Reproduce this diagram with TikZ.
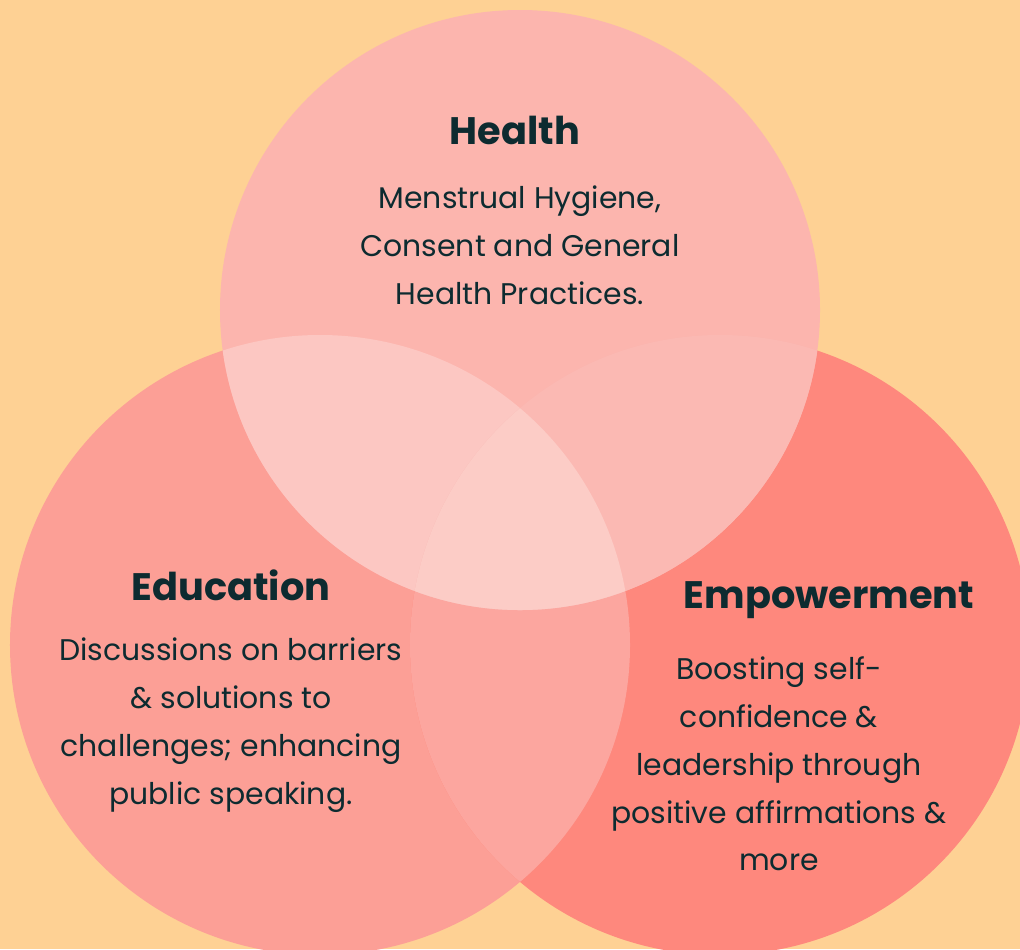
\documentclass[tikz,border=0pt]{standalone}
\usepackage{fontspec}
\setmainfont{Poppins}
\usepackage{tikz}

\definecolor{peach}{HTML}{FED194}
\definecolor{healthpink}{HTML}{FCB5AE}
\definecolor{edupink}{HTML}{FC9F96}
\definecolor{empsalmon}{HTML}{FE887D}
\definecolor{healthedu}{HTML}{FCC7C2}
\definecolor{healthemp}{HTML}{FBB9B3}
\definecolor{eduemp}{HTML}{FCA69F}
\definecolor{allthree}{HTML}{FCCCC6}
\definecolor{inkteal}{HTML}{0D2B30}

\tikzset{
    title/.style={text=inkteal, font=\fontsize{21.8}{26}\selectfont\bfseries},
    blurb/.style={text=inkteal, align=center, font=\fontsize{17}{27.2}\selectfont}
}

\begin{document}
\begin{tikzpicture}[x=0.2mm, y=-0.2mm]
    \fill [peach] (0,0) rectangle (1020,949);
    \useasboundingbox (0,0) rectangle (1020,949);

    \fill [edupink] (320,645) circle (62mm);
    \fill [empsalmon] (720,645) circle (62mm);
    \fill [healthpink] (520,310) circle (60mm);

    \begin{scope}
        \clip (320,645) circle (62mm);
        \fill [eduemp] (720,645) circle (62mm);
    \end{scope}
    \begin{scope}
        \clip (520,310) circle (60mm);
        \fill [healthedu] (320,645) circle (62mm);
        \fill [healthemp] (720,645) circle (62mm);
        \clip (320,645) circle (62mm);
        \fill [allthree] (720,645) circle (62mm);
    \end{scope}

    \node [title] (health) at (515,130) {Health};
    \node [blurb] (healthtext) at (520,245) {Menstrual Hygiene,\\Consent and General\\Health Practices.};

    \node [title] (education) at (231,585) {Education};
    \node [blurb] (edutext) at (231,725) {Discussions on barriers\\\& solutions to\\challenges; enhancing\\public speaking.};

    \node [title] (empowerment) at (829,600) {Empowerment};
    \node [blurb] (emptext) at (779,764) {Boosting self-\\confidence \&\\leadership through\\positive affirmations \&\\more};
\end{tikzpicture}
\end{document}
